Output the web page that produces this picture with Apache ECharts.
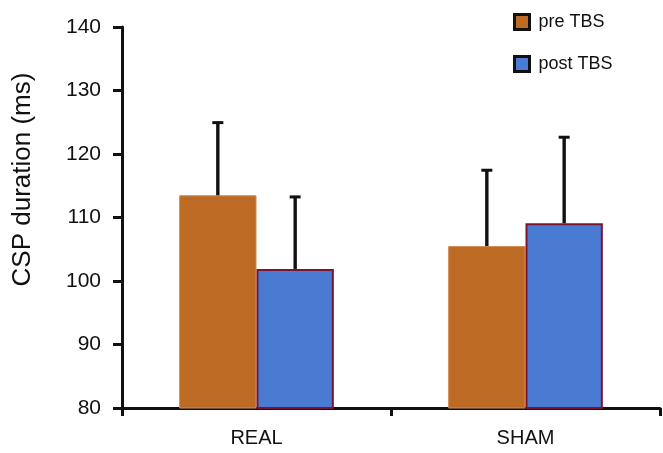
<!DOCTYPE html>
<html>
<head>
<meta charset="utf-8">
<script src="https://cdn.jsdelivr.net/npm/echarts@6/dist/echarts.min.js"></script>
<style>
  html, body { margin: 0; padding: 0; background: #fff; }
  #chart { width: 663px; height: 453px; }
</style>
</head>
<body>
<div id="chart"></div>
<script>
// Cortical silent period duration, group means with upper error bars
const categories = ['REAL', 'SHAM'];
const preTBS = [113.5, 105.5];
const postTBS = [101.9, 109.1];
const preTBSErrTop = [125.1, 117.6];
const postTBSErrTop = [113.4, 122.8];
const yTicks = { min: 80, max: 140, step: 10 };

const FONT = '"Liberation Sans", Arial, Helvetica, sans-serif';
const INK = '#111111';
const GROUP_FRACTION = 0.575; // share of each category band filled by the two bars

function errorSeries(name, tops, values, side) {
  return {
    type: 'custom',
    name: name + ' error',
    z: 5,
    silent: true,
    data: values.map((v, i) => [i, v, tops[i]]),
    renderItem: function (params, api) {
      const band = api.size([1, 0])[0];
      const dx = side * band * GROUP_FRACTION / 4;
      const base = api.coord([api.value(0), api.value(1)]);
      const top = api.coord([api.value(0), api.value(2)]);
      const x = base[0] + dx;
      const style = { stroke: INK, lineWidth: 3.4 };
      return {
        type: 'group',
        children: [
          { type: 'line', shape: { x1: x, y1: base[1], x2: x, y2: top[1] }, style: style },
          { type: 'line', shape: { x1: x - 5.5, y1: top[1] + 1, x2: x + 5.5, y2: top[1] + 1 }, style: { stroke: INK, lineWidth: 3 } }
        ]
      };
    }
  };
}

const chart = echarts.init(document.getElementById('chart'), null, { renderer: 'canvas' });
chart.setOption({
  animation: false,
  backgroundColor: '#ffffff',
  textStyle: { fontFamily: FONT },
  grid: { left: 122, right: 3, top: 27, bottom: 45, containLabel: false },
  legend: {
    orient: 'vertical',
    left: 508,
    top: 8,
    itemWidth: 15,
    itemHeight: 15,
    itemGap: 24,
    icon: 'rect',
    selectedMode: false,
    textStyle: { fontFamily: FONT, fontSize: 18, color: INK, padding: [0, 0, 0, 4] },
    data: [
      { name: 'pre TBS', itemStyle: { color: '#BD6A25', borderColor: INK, borderWidth: 3 } },
      { name: 'post TBS', itemStyle: { color: '#4A7BD2', borderColor: INK, borderWidth: 3 } }
    ]
  },
  xAxis: {
    type: 'category',
    data: categories,
    axisLine: { lineStyle: { color: INK, width: 3 } },
    axisTick: { show: true, length: 8, lineStyle: { color: INK, width: 3 } },
    axisLabel: { color: INK, fontSize: 20, margin: 20, fontFamily: FONT }
  },
  yAxis: {
    type: 'value',
    min: yTicks.min,
    max: yTicks.max,
    interval: yTicks.step,
    name: 'CSP duration (ms)',
    nameLocation: 'middle',
    nameGap: 86,
    nameTextStyle: { color: INK, fontSize: 26, fontFamily: FONT, padding: [0, 0, 0, 76] },
    axisLine: { show: true, lineStyle: { color: INK, width: 3 } },
    axisTick: { show: true, length: 9, lineStyle: { color: INK, width: 3 } },
    splitLine: { show: false },
    axisLabel: { color: INK, fontSize: 21, margin: 21, fontFamily: FONT }
  },
  series: [
    {
      type: 'bar',
      name: 'pre TBS',
      data: preTBS,
      barGap: 0,
      barCategoryGap: ((1 - GROUP_FRACTION) * 100) + '%',
      itemStyle: { color: '#BD6A25', borderColor: '#D08A50', borderWidth: 1 }
    },
    {
      type: 'bar',
      name: 'post TBS',
      data: postTBS,
      barGap: 0,
      barCategoryGap: ((1 - GROUP_FRACTION) * 100) + '%',
      itemStyle: { color: '#4A7BD2', borderColor: '#7A1530', borderWidth: 2 }
    },
    errorSeries('pre TBS', preTBSErrTop, preTBS, -1),
    errorSeries('post TBS', postTBSErrTop, postTBS, 1)
  ]
});
</script>
</body>
</html>
